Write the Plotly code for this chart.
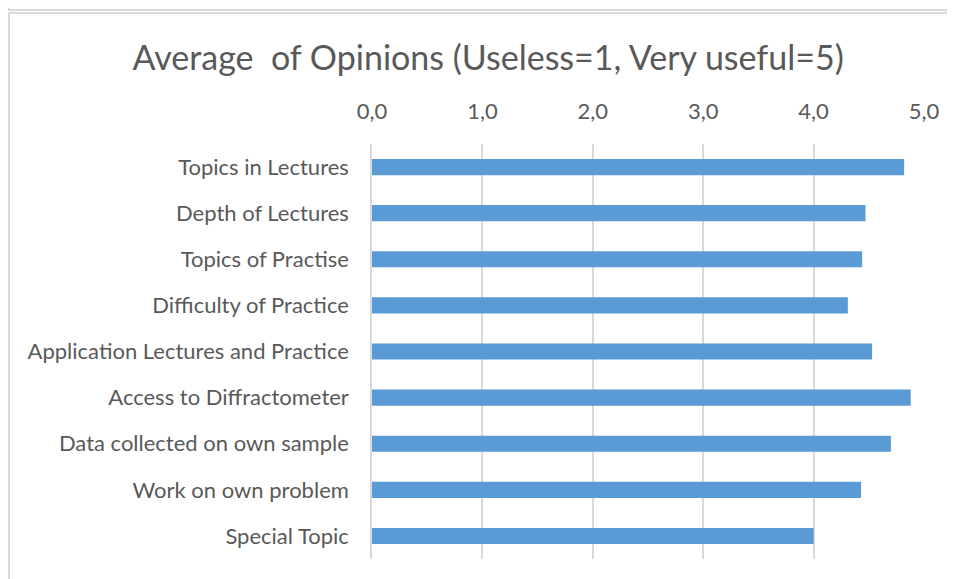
import plotly.graph_objects as go

# categorias (de cima para baixo) e médias
categorias = [
    "Topics in Lectures",
    "Depth of Lectures",
    "Topics of Practise",
    "Difficulty of Practice",
    "Application Lectures and Practice",
    "Access to Diffractometer",
    "Data collected on own sample",
    "Work on own problem",
    "Special Topic",
]
medias = [4.82, 4.47, 4.44, 4.31, 4.53, 4.88, 4.70, 4.43, 4.00]
ticks = [0, 1, 2, 3, 4, 5]

fonte = "Lato"
cinza_txt = "#595959"
cinza_linha = "#d9d9d9"

# a página tem margem de 8px no body, então a figura é 8px menor
L, T, W, H = 364, 136, 552, 415

fig = go.Figure(go.Bar(
    x=medias,
    y=categorias,
    orientation="h",
    marker=dict(color="#5b9bd5", line=dict(width=0)),
    hoverinfo="x+y",
))

fig.update_layout(
    width=947,
    height=571,
    separators=",.",
    plot_bgcolor="white",
    paper_bgcolor="white",
    bargap=0.65,
    showlegend=False,
    margin=dict(l=L, r=947 - L - W, t=T, b=571 - T - H),
    title=dict(
        text="Average  of Opinions (Useless=1, Very useful=5)",
        font=dict(family=fonte, size=34, color=cinza_txt),
        x=0.507, xanchor="center",
        y=0.912, yanchor="middle",
    ),
    xaxis=dict(
        side="top",
        range=[0, 5],
        tickvals=ticks,
        tickformat=".1f",
        showgrid=True,
        gridcolor=cinza_linha,
        gridwidth=1.5,
        zeroline=False,
        showline=False,
        ticks="",
        ticklabelstandoff=20,
        tickfont=dict(family=fonte, size=22, color=cinza_txt),
    ),
    yaxis=dict(
        autorange="reversed",
        showline=True,
        linecolor=cinza_linha,
        linewidth=1.5,
        ticks="",
        ticklabelstandoff=17,
        tickfont=dict(family=fonte, size=22, color=cinza_txt),
    ),
)

# moldura cinza do gráfico (bordas do Excel), em pixels da figura
molduras = [
    dict(x0=-10, x1=960, y0=2, y1=2),
    dict(x0=0, x1=960, y0=5, y1=5),
    dict(x0=1, x1=1, y0=0, y1=2),
    dict(x0=1, x1=1, y0=5, y1=580),
]
for m in molduras:
    fig.add_shape(
        type="line",
        xref="paper", yref="paper",
        x0=(m["x0"] - L) / W, x1=(m["x1"] - L) / W,
        y0=(T + H - m["y0"]) / H, y1=(T + H - m["y1"]) / H,
        line=dict(color=cinza_linha, width=2),
    )

fig.write_html("out.html")
